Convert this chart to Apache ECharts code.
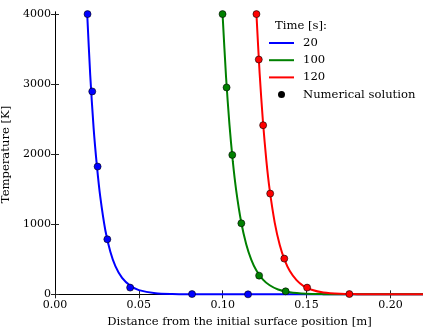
<!DOCTYPE html>
<html><head><meta charset="utf-8">
<script src="https://cdn.jsdelivr.net/npm/echarts@6/dist/echarts.min.js"></script>
<style>html,body{margin:0;padding:0;background:#fff}#c{width:423px;height:327px}</style>
</head><body><div id="c"></div>
<script>
// Analytical curves
const blueX = [0.0192,0.021,0.023,0.025,0.027,0.030,0.033,0.036,0.040,0.045,0.050,0.060,0.070,0.080,0.100,0.220];
const blueT = [4000,3130,2380,1830,1390,915,608,404,234,120,60,15,4,1,0,0];
const greenX = [0.0999,0.102,0.104,0.106,0.108,0.111,0.114,0.117,0.120,0.124,0.128,0.133,0.140,0.150,0.160,0.170,0.180,0.220];
const greenT = [4000,3095,2426,1900,1489,1033,716,497,345,211,130,70,30,9,3,1,0,0];
const redX = [0.1201,0.122,0.124,0.126,0.128,0.131,0.134,0.137,0.140,0.144,0.148,0.153,0.160,0.170,0.180,0.190,0.220];
const redT = [4000,3155,2457,1913,1490,1024,704,484,332,202,122,66,27,8,3,1,0];
// Numerical solution points
const blueDotX = [0.0194,0.0222,0.0254,0.0312,0.0448,0.0817,0.1151];
const blueDotT = [4000,2896,1824,786,96,4,0];
const greenDotX = [0.0999,0.1023,0.1057,0.1111,0.1217,0.1375];
const greenDotT = [4000,2953,1990,1014,267,43];
const redDotX = [0.1201,0.1215,0.1241,0.1283,0.1367,0.1503,0.1755];
const redDotT = [4000,3352,2414,1438,510,96,4];
const seriesNames = ['20','100','120'];
const yTicks = [0,1000,2000,3000,4000];
const xTicks = [0,0.05,0.10,0.15,0.20];

const zip = (a,b)=>a.map((v,i)=>[v,b[i]]);
const FONT = 'DejaVu Serif';
const FS = 11;     // tick labels
const FN = 11.6;   // names / legend
const chart = echarts.init(document.getElementById('c'), null, {renderer:'canvas'});
const lineS = (name,x,t,color)=>({name,type:'line',xAxisIndex:0,yAxisIndex:0,data:zip(x,t),symbol:'none',smooth:0.25,
  lineStyle:{color,width:2},itemStyle:{color},z:2,animation:false});
const dotS = (x,t,color)=>({type:'scatter',xAxisIndex:0,yAxisIndex:0,data:zip(x,t),symbol:'circle',symbolSize:7,
  itemStyle:{color,borderColor:'#000',borderWidth:0.6,opacity:1},z:3,animation:false});
const yMin=-38, yMax=4030;
const tickCol='#222';
chart.setOption({
  animation:false,
  textStyle:{fontFamily:FONT},
  grid:{left:55,right:-1,top:12,bottom:30,containLabel:false,outerBoundsMode:'none'},
  title:{text:'Time [s]:',left:275,top:20,textStyle:{fontFamily:FONT,fontSize:FN,fontWeight:'normal',color:'#000'},padding:0},
  legend:{orient:'vertical',left:268,top:37,itemWidth:25,itemHeight:7,itemGap:5.2,padding:0,
    textStyle:{fontFamily:FONT,fontSize:FN,color:'#000',lineHeight:12,padding:[0,0,0,4]},
    data:[{name:seriesNames[0],itemStyle:{opacity:0}},{name:seriesNames[1],itemStyle:{opacity:0}},{name:seriesNames[2],itemStyle:{opacity:0}},
      {name:'Numerical solution',icon:'circle',itemStyle:{color:'#000',opacity:1}}]},
  xAxis:[
    {type:'value',position:'bottom',min:0,max:0.22,
     axisLine:{show:true,lineStyle:{color:'#000',width:1}},
     axisTick:{show:true,inside:true,length:4,customValues:xTicks,lineStyle:{color:tickCol}},
     axisLabel:{customValues:xTicks,formatter:v=>v.toFixed(2),fontFamily:FONT,fontSize:FS,color:'#000',margin:3},
     splitLine:{show:false},
     name:'Distance from the initial surface position [m]',nameLocation:'middle',nameGap:16,
     nameTextStyle:{fontFamily:FONT,fontSize:FN,color:'#000'}},
    {type:'value',position:'top',min:0,max:0.22,
     axisLine:{show:true,lineStyle:{color:'#000',width:1}},
     axisTick:{show:true,inside:true,length:4,customValues:xTicks,lineStyle:{color:tickCol}},
     axisLabel:{show:false},splitLine:{show:false}}
  ],
  yAxis:[
    {type:'value',position:'left',min:yMin,max:yMax,
     axisLine:{show:true,lineStyle:{color:'#000',width:1}},
     axisTick:{show:true,inside:true,length:4,customValues:yTicks,lineStyle:{color:tickCol}},
     axisLabel:{customValues:yTicks,formatter:v=>String(v),fontFamily:FONT,fontSize:FS,color:'#000',margin:4},
     splitLine:{show:false},
     name:'Temperature [K]',nameLocation:'middle',nameGap:35,nameRotate:90,
     nameTextStyle:{fontFamily:FONT,fontSize:FN,color:'#000'}},
    {type:'value',position:'right',min:yMin,max:yMax,
     axisLine:{show:true,lineStyle:{color:'#000',width:1}},
     axisTick:{show:true,inside:true,length:4,customValues:yTicks,lineStyle:{color:tickCol}},
     axisLabel:{show:false},splitLine:{show:false}}
  ],
  series:[
    lineS(seriesNames[0],blueX,blueT,'#0000ff'),
    lineS(seriesNames[1],greenX,greenT,'#008000'),
    lineS(seriesNames[2],redX,redT,'#ff0000'),
    dotS(blueDotX,blueDotT,'#0000ff'),
    dotS(greenDotX,greenDotT,'#008000'),
    dotS(redDotX,redDotT,'#ff0000'),
    {name:'Numerical solution',type:'scatter',data:[],symbol:'circle',symbolSize:7,itemStyle:{color:'#000',opacity:1}}
  ]
});
</script></body></html>
